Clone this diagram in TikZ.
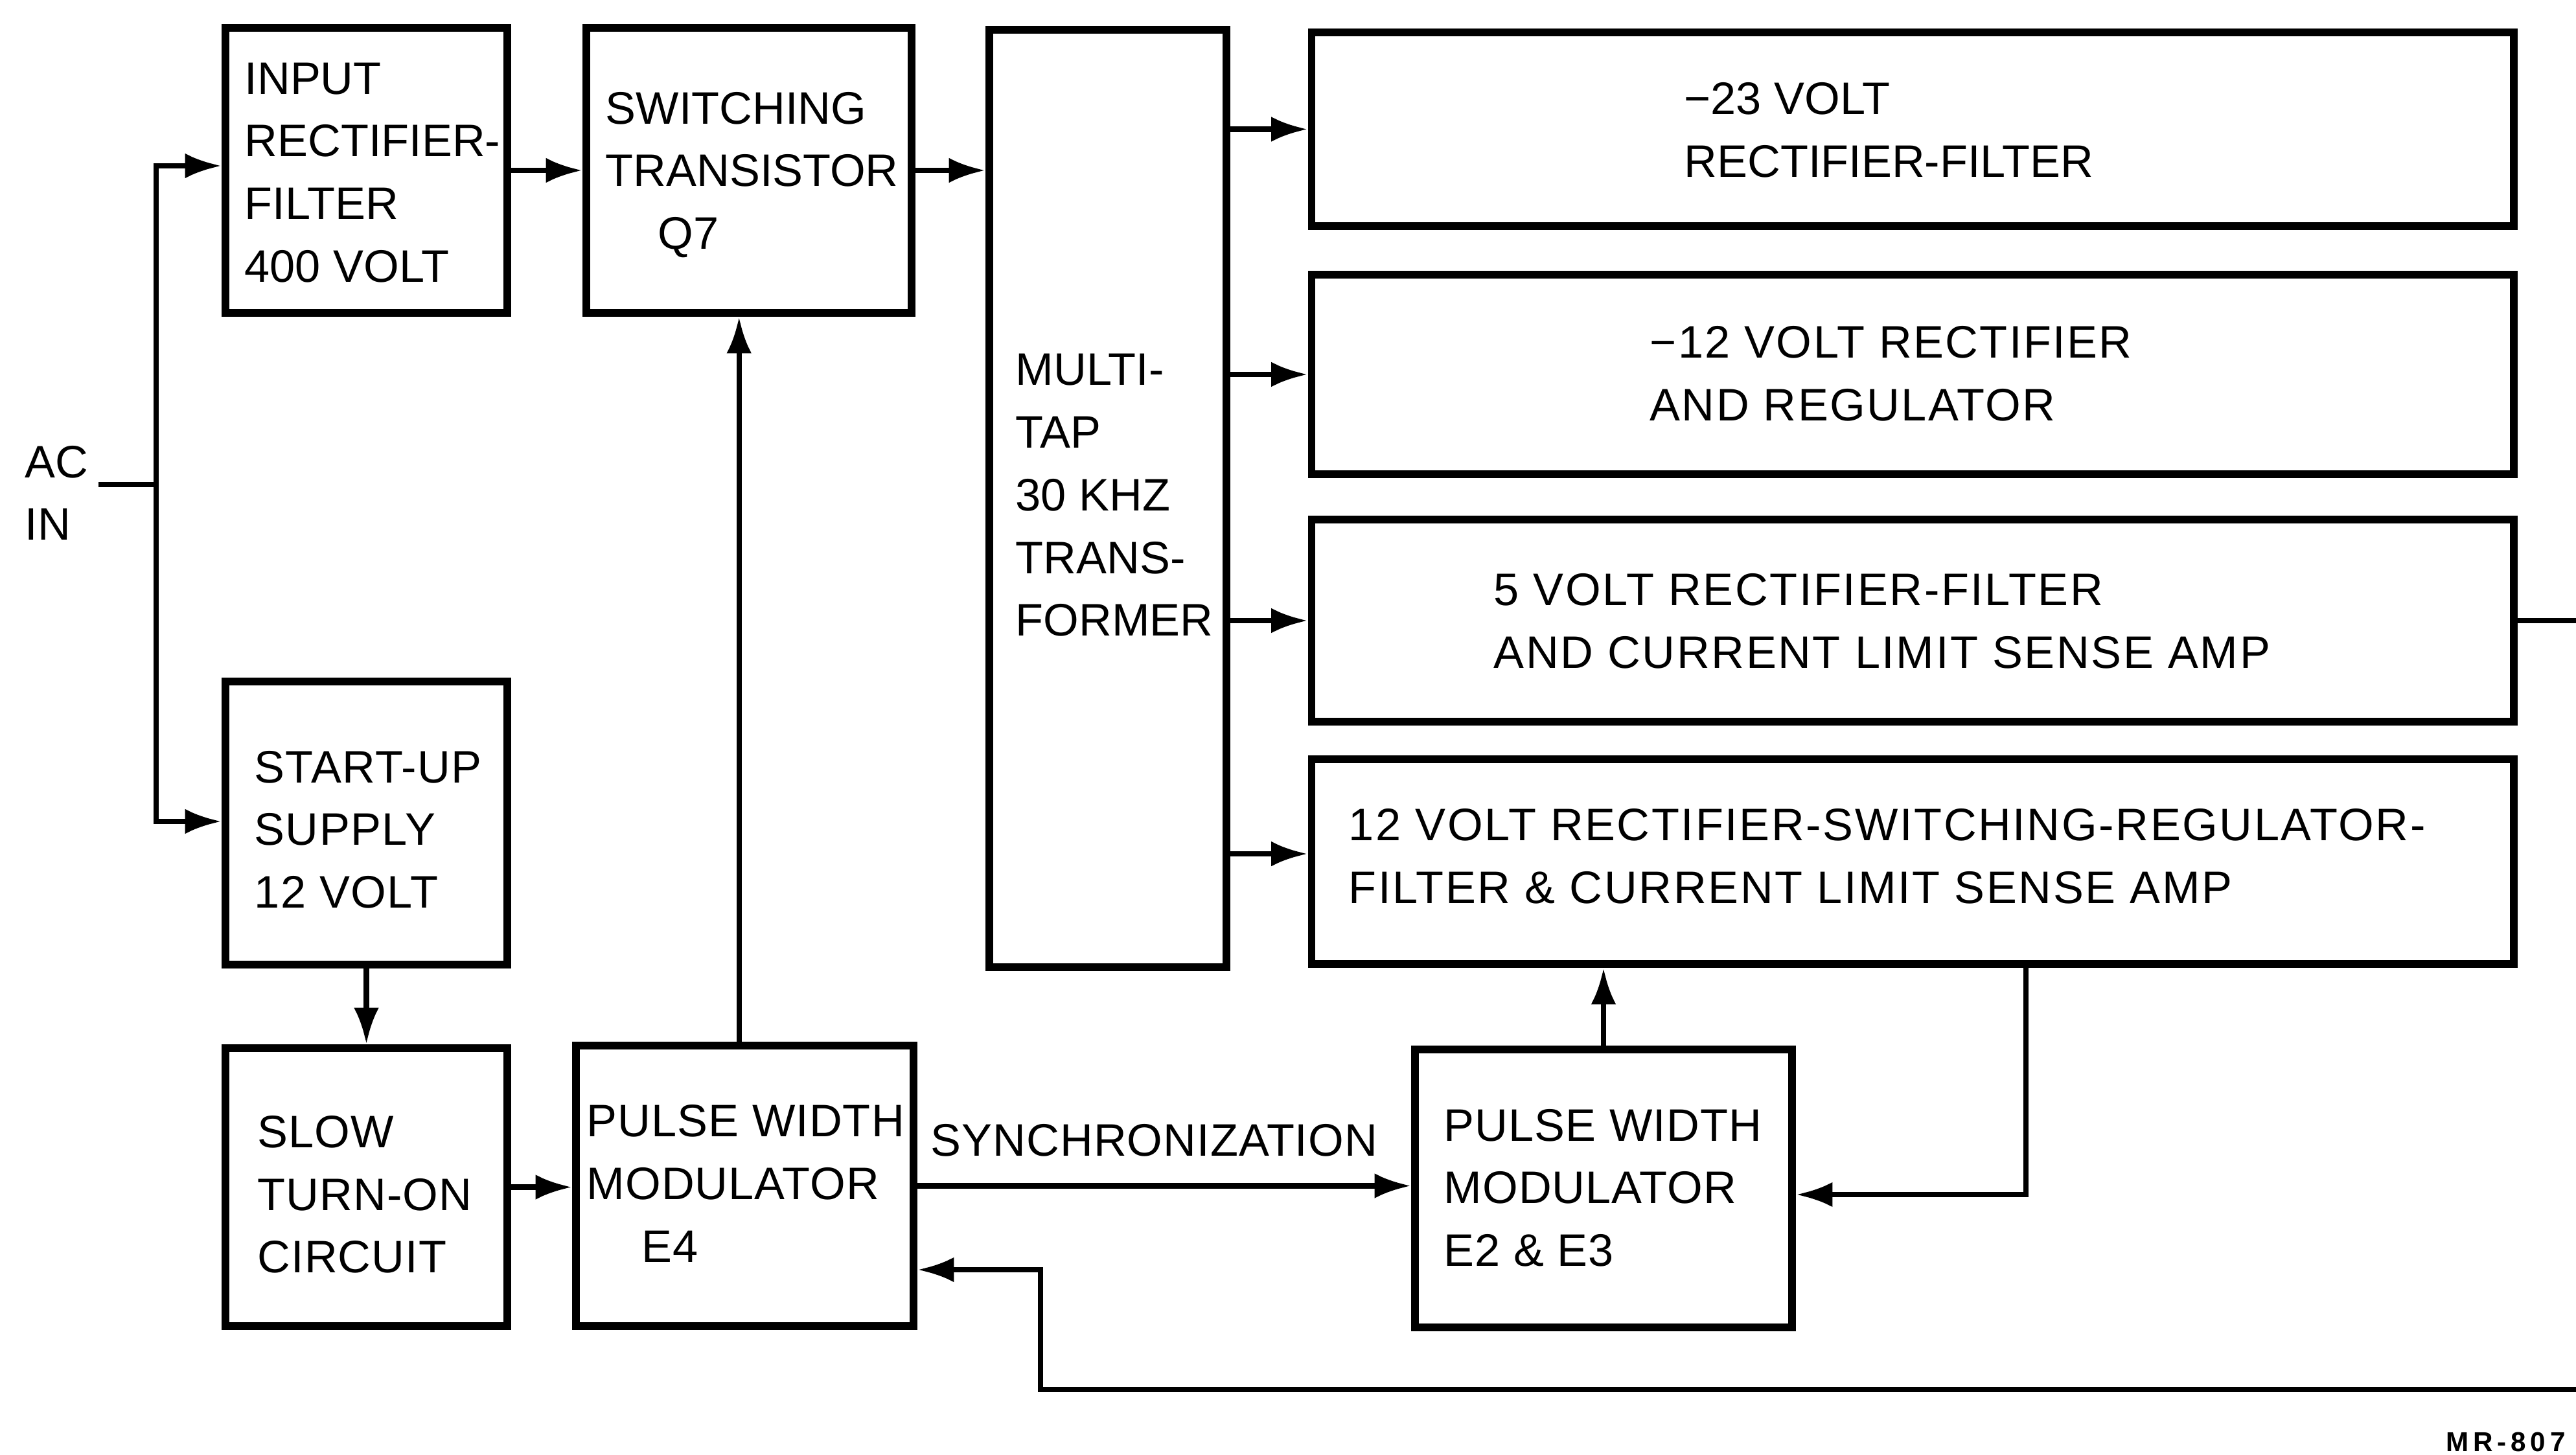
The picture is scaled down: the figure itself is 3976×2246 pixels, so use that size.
\documentclass[tikz,border=0pt]{standalone}
\usepackage{fontspec}
\setmainfont{Liberation Sans}
\newfontfamily\mrfont[LetterSpace=16]{Liberation Sans Bold}
\usetikzlibrary{arrows.meta}
\begin{document}
\begin{tikzpicture}[x=0.01cm,y=-0.01cm,
  blk/.style={draw, line width=3.4pt, inner sep=0pt, rectangle},
  txt/.style={inner sep=0pt, align=left, anchor=west, font=\fontsize{20}{27.5}\selectfont},
  wide/.style={font=\fontsize{20}{27.5}\selectfont\addfontfeature{LetterSpace=#1}},
  conn/.style={line width=2.4pt},
  arr/.style={conn, -{Latex[length=16pt,width=11pt]}},
]
\useasboundingbox (0,0) rectangle (3976,2246);
\fill[white] (0,0) rectangle (3976,2246);

% blocks
\node[blk, minimum width=4.35cm, minimum height=4.40cm] (inp) at (565.5,263) {};
\node[blk, minimum width=5.02cm, minimum height=4.40cm] (sw) at (1156,263) {};
\node[blk, minimum width=3.66cm, minimum height=14.47cm] (tr) at (1710,769.5) {};
\node[blk, minimum width=18.54cm, minimum height=2.99cm] (b1) at (2952,199.5) {};
\node[blk, minimum width=18.54cm, minimum height=3.08cm] (b2) at (2952,578) {};
\node[blk, minimum width=18.54cm, minimum height=3.12cm] (b3) at (2952,958) {};
\node[blk, minimum width=18.54cm, minimum height=3.16cm] (b4) at (2952,1330) {};
\node[blk, minimum width=4.35cm, minimum height=4.37cm] (su) at (565.5,1270.5) {};
\node[blk, minimum width=4.35cm, minimum height=4.29cm] (slow) at (565.5,1832.5) {};
\node[blk, minimum width=5.21cm, minimum height=4.33cm] (e4) at (1149.5,1830.5) {};
\node[blk, minimum width=5.82cm, minimum height=4.29cm] (e23) at (2475,1834.5) {};

% texts
\node[txt] (inpT) at (377,266.5) {INPUT\\RECTIFIER-\\FILTER\\400 VOLT};
\node[txt] (swT) at (934,270) {SWITCHING\\TRANSISTOR\\\hspace*{23pt}Q7};
\node[txt] (trT) at (1567,764.5) {MULTI-\\TAP\\30 KHZ\\TRANS-\\FORMER};
\node[txt] (b1T) at (2599,200.5) {−23 VOLT\\RECTIFIER-FILTER};
\node[txt, wide=3.4] (b2T) at (2546,577) {−12 VOLT RECTIFIER\\AND REGULATOR};
\node[txt, wide=3.7] (b3T) at (2305,958.5) {5 VOLT RECTIFIER-FILTER\\AND CURRENT LIMIT SENSE AMP};
\node[txt, wide=3.7] (b4T) at (2081,1322) {12 VOLT RECTIFIER-SWITCHING-REGULATOR-\\FILTER \& CURRENT LIMIT SENSE AMP};
\node[txt, wide=2] (suT) at (392,1280.5) {START-UP\\SUPPLY\\12 VOLT};
\node[txt, wide=1.5] (slowT) at (397,1844) {SLOW\\TURN-ON\\CIRCUIT};
\node[txt, wide=1.5] (e4T) at (905,1827) {PULSE WIDTH\\MODULATOR\\\hspace*{24pt}E4};
\node[txt, wide=1.5] (e23T) at (2228,1833.5) {PULSE WIDTH\\MODULATOR\\E2 \& E3};
\node[txt, wide=1.5] (syncT) at (1436,1760) {SYNCHRONIZATION};
\node[txt] (acT) at (38,761) {AC\\IN};
\node[inner sep=0pt, anchor=west, font=\mrfont\fontsize{12}{14}\selectfont] (mr) at (3775,2226) {MR-807};

% coordinates
\coordinate (acs) at (152,748);
\coordinate (acj) at (241,748);
\coordinate (pin) at (241,256);
\coordinate (psu) at (241,1268);
\coordinate (t4) at ([yshift=3.4pt]b4.west);
\coordinate (e4t) at ([xshift=-2.5pt]e4.north);
\coordinate (fb) at (3127,1844);
\coordinate (r1) at (4010,0);
\coordinate (r2) at (4010,2145);
\coordinate (r3) at (1606,2145);
\coordinate (r4) at (1606,1960);

% connectors
\draw[conn] (acs) -- (acj);
\draw[arr] (acj) -- (pin) -- (pin -| inp.west);
\draw[arr] (acj) -- (psu) -- (psu -| su.west);
\draw[arr] (inp.east) -- (sw.west);
\draw[arr] (sw.east) -- (sw.east -| tr.west);
\draw[arr] (b1.west -| tr.east) -- (b1.west);
\draw[arr] (b2.west -| tr.east) -- (b2.west);
\draw[arr] (b3.west -| tr.east) -- (b3.west);
\draw[arr] (t4 -| tr.east) -- (t4);
\draw[arr] (su.south) -- (slow.north);
\draw[arr] (slow.east) -- (slow.east -| e4.west);
\draw[arr] (e4t) -- (e4t |- sw.south);
\draw[arr] (e4.east) -- (e4.east -| e23.west);
\draw[arr] (e23.north) -- (e23.north |- b4.south);
\draw[arr] (fb |- b4.south) -- (fb) -- (fb -| e23.east);
\draw[arr] (b3.east) -- (b3.east -| r1) -- (r2) -- (r3) -- (r4) -- (r4 -| e4.east);
\end{tikzpicture}
\end{document}
